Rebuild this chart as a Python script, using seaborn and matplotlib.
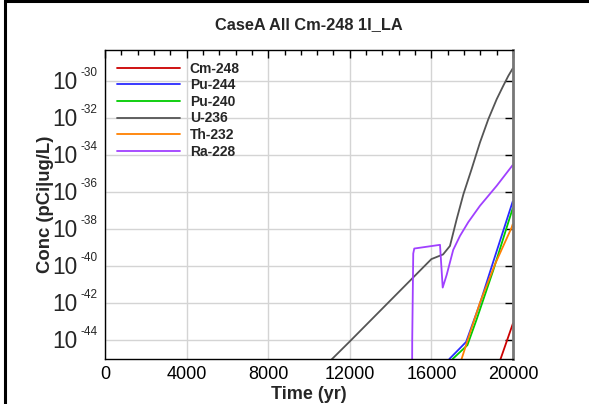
import numpy as np
import pandas as pd
import seaborn as sns
import matplotlib
matplotlib.use("Agg")
import matplotlib.pyplot as plt
import matplotlib.transforms as mtransforms
from matplotlib.ticker import FixedLocator, MultipleLocator, NullFormatter
from matplotlib.lines import Line2D

# ---------------- data (time in yr, log10 of concentration) ----------------
cm248_t = [19390, 20000]
cm248_log = [-45.0, -43.07]

pu244_t = [16880, 17700, 18380, 19030, 19985]
pu244_log = [-45.0, -44.08, -42.0, -39.75, -36.49]

pu240_t = [17040, 17765, 18220, 19034, 19985]
pu240_log = [-45.0, -44.25, -42.85, -40.2, -36.86]

u236_t = [10900, 11130, 12000, 16000, 16570, 16910, 17240, 17570, 17970,
          18380, 18790, 19200, 19520, 19770, 19985]
u236_log = [-45.25, -45.0, -44.05, -39.6, -39.35, -38.89, -37.44, -36.09,
            -34.74, -33.3, -32.04, -30.96, -30.24, -29.7, -29.3]

th232_t = [17480, 17765, 18382, 19118, 19935, 19985]
th232_log = [-45.0, -44.02, -41.95, -39.88, -37.89, -37.72]

ra228_t = [15030, 15060, 15110, 15160, 16422, 16554, 16750, 17070, 17400,
           17810, 18380, 19200, 19985]
ra228_log = [-52.0, -44.0, -39.3, -39.03, -38.83, -41.14, -40.45, -39.1,
             -38.35, -37.6, -36.72, -35.64, -34.52]

nuclides = ["Cm-248", "Pu-244", "Pu-240", "U-236", "Th-232", "Ra-228"]
colors = ["#cc0000", "#2a2aff", "#00cc00", "#555555", "#ff8000", "#a040ff"]

series_t = [cm248_t, pu244_t, pu240_t, u236_t, th232_t, ra228_t]
series_log = [cm248_log, pu244_log, pu240_log, u236_log, th232_log, ra228_log]

ytick_exps = [-44, -42, -40, -38, -36, -34, -32, -30]
xticks = [0, 4000, 8000, 12000, 16000, 20000]

title = "CaseA All Cm-248 1I_LA"
xlabel = "Time (yr)"
ylabel = "Conc (pCi|ug/L)"

# ---------------- build table ----------------
rows = []
for name, ts, ls in zip(nuclides, series_t, series_log):
    for t, l in zip(ts, ls):
        rows.append({"time": t, "conc": 10.0 ** l, "nuclide": name})
df = pd.DataFrame(rows)

# ---------------- style ----------------
sns.set_theme(style="white")
plt.rcParams["font.family"] = ["Liberation Sans", "DejaVu Sans"]

fig = plt.figure(figsize=(5.89, 4.04), dpi=100)
ax = fig.add_axes([105 / 589, 1 - 359 / 404, 408 / 589, 309 / 404])

sns.lineplot(data=df, x="time", y="conc", hue="nuclide", hue_order=nuclides,
             palette=dict(zip(nuclides, colors)), estimator=None, sort=False,
             linewidth=1.3, ax=ax)

ax.set_yscale("log")
ax.set_xlim(0, 20000)
ax.set_ylim(1e-45, 10 ** -28.3)

ax.xaxis.set_major_locator(FixedLocator(xticks))
ax.xaxis.set_minor_locator(MultipleLocator(800))
ax.yaxis.set_major_locator(FixedLocator([10.0 ** e for e in ytick_exps]))
ax.yaxis.set_major_formatter(NullFormatter())
ax.yaxis.set_minor_locator(FixedLocator([]))
ax.yaxis.set_minor_formatter(NullFormatter())

ax.grid(True, which="major", color="#d4d4d4", linewidth=1.0)
ax.set_axisbelow(True)

ax.tick_params(axis="both", which="both", direction="in", top=True, right=True,
               colors="black")
ax.tick_params(axis="both", which="major", length=6, width=1.0)
ax.tick_params(axis="both", which="minor", length=3.5, width=1.0)
ax.tick_params(axis="x", which="major", labelsize=13, pad=5)

# y tick labels: large "10" with small hyphen exponent
ytrans = ax.get_yaxis_transform()
t_base = mtransforms.offset_copy(ytrans, fig=fig, x=0, y=-0.8, units="points")
t_exp = mtransforms.offset_copy(ytrans, fig=fig, x=0, y=6.2, units="points")
for e in ytick_exps:
    ax.text((77.5 - 105) / 408, 10.0 ** e, "10", transform=t_base,
            ha="right", va="center", fontsize=16.3, clip_on=False)
    ax.text((80.5 - 105) / 408, 10.0 ** e, "%d" % e, transform=t_exp,
            ha="left", va="center", fontsize=8.5, clip_on=False)

for s in ["left", "bottom", "top"]:
    ax.spines[s].set_color("black")
    ax.spines[s].set_linewidth(1.0)
ax.spines["right"].set_color("#777777")
ax.spines["right"].set_linewidth(2.0)

ax.set_xlabel(xlabel, fontsize=13, fontweight="bold", labelpad=2)
ax.set_ylabel(ylabel, fontsize=13.3, fontweight="bold")
ax.yaxis.set_label_coords((54 - 105) / 408, 0.5)
ax.set_title(title, fontsize=11.8, fontweight="bold", pad=15)

leg = ax.legend(loc="upper left", bbox_to_anchor=(0.029, 0.962), frameon=False,
                borderpad=0, borderaxespad=0, handlelength=4.53,
                handletextpad=0.72, labelspacing=0.185,
                prop={"weight": "bold", "size": 10})
for line in leg.get_lines():
    line.set_linewidth(1.3)

# figure border lines (left and top)
fig.add_artist(Line2D([5 / 589, 5 / 589], [0, 1], transform=fig.transFigure,
                      color="black", linewidth=2.2))
fig.add_artist(Line2D([5 / 589, 1], [1 - 1 / 404, 1 - 1 / 404],
                      transform=fig.transFigure, color="black", linewidth=2.2))

fig.savefig("out.png", dpi=100)
